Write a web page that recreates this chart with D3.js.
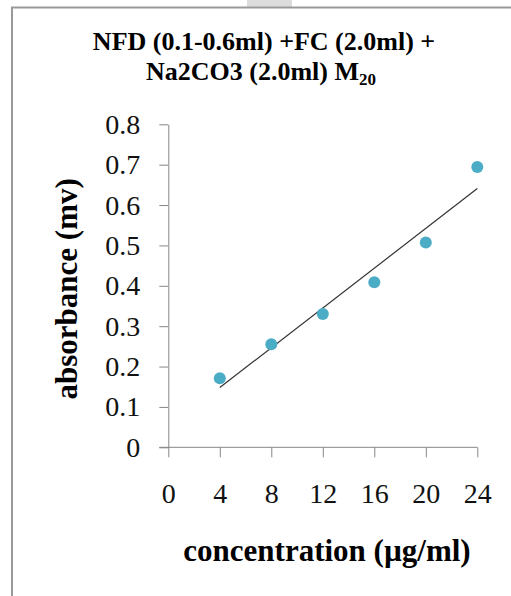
<!doctype html>
<html lang="en">
<head>
  <meta charset="UTF-8">
  <title>Absorbance vs concentration</title>
  <script src="https://cdn.jsdelivr.net/npm/d3@7"></script>
  <style>
    html, body { margin: 0; padding: 0; background: #fff; }
    svg { display: block; }
  </style>
</head>
<body>
<svg width="511" height="596" id="chart"></svg>
<script>
  // data
  var concentration = [4, 8, 12, 16, 20, 24];
  var absorbance = [0.171, 0.255, 0.330, 0.409, 0.507, 0.694];
  var xTicks = [0, 4, 8, 12, 16, 20, 24];
  var yTicks = [0, 0.1, 0.2, 0.3, 0.4, 0.5, 0.6, 0.7, 0.8];

  (function () {
    var svg = d3.select('#chart'),
      serif = '"Liberation Serif", "Times New Roman", serif',
      axisColor = '#868686';

    var x = d3.scaleLinear().domain([0, 24]).range([168.3, 477.3]),
      y = d3.scaleLinear().domain([0, 0.8]).range([447.3, 124.3]);

    // frame and the grey tab at the top
    svg.append('rect')
      .attr('x', 247).attr('y', 0).attr('width', 45).attr('height', 7)
      .attr('fill', '#dcdcdc');
    svg.append('path')
      .attr('d', 'M12,596V7.5H511')
      .attr('fill', 'none')
      .attr('stroke', '#999')
      .attr('stroke-width', 2);

    // title
    var title = svg.append('text')
      .attr('text-anchor', 'middle')
      .attr('font-family', serif)
      .attr('font-weight', 'bold')
      .attr('font-size', 26)
      .attr('fill', '#000');
    title.append('tspan').attr('x', 264).attr('y', 50)
      .text('NFD (0.1-0.6ml) +FC (2.0ml) +');
    title.append('tspan').attr('x', 261).attr('y', 80)
      .text('Na2CO3 (2.0ml) M');
    title.append('tspan').attr('font-size', 17).attr('dy', 5).text('20');

    // axes
    var gx = svg.append('g')
      .attr('transform', 'translate(0,' + y(0) + ')')
      .call(d3.axisBottom(x).tickValues(xTicks).tickSize(10).tickSizeOuter(0).tickPadding(26)
        .tickFormat(d3.format('d')));
    var gy = svg.append('g')
      .attr('transform', 'translate(' + x(0) + ',0)')
      .call(d3.axisLeft(y).tickValues(yTicks).tickSize(9).tickSizeOuter(0).tickPadding(19)
        .tickFormat(function (d) { return d === 0 ? '0' : d3.format('.1f')(d); }));

    [gx, gy].forEach(function (g) {
      g.selectAll('path, line').attr('stroke', axisColor);
      g.selectAll('text')
        .attr('font-family', serif)
        .attr('font-size', 28)
        .attr('fill', '#111');
    });
    gx.select('.domain').attr('d', 'M' + (x(0) - 9) + ',0H' + x(24));

    // axis titles
    svg.append('text')
      .attr('x', 327).attr('y', 561)
      .attr('text-anchor', 'middle')
      .attr('font-family', serif)
      .attr('font-weight', 'bold')
      .attr('font-size', 31)
      .text('concentration (\u00b5g/ml)');

    svg.append('text')
      .attr('transform', 'translate(77,' + ((y(0) + y(0.8)) / 2 + 3) + ') rotate(-90)')
      .attr('text-anchor', 'middle')
      .attr('font-family', serif)
      .attr('font-weight', 'bold')
      .attr('font-size', 31)
      .text('absorbance (mv)');

    // least squares trendline
    var data = concentration.map(function (c, i) { return {c: c, a: absorbance[i]}; });
    var mx = d3.mean(concentration), my = d3.mean(absorbance);
    var sxy = d3.sum(data, function (d) { return (d.c - mx) * (d.a - my); }),
      sxx = d3.sum(data, function (d) { return (d.c - mx) * (d.c - mx); });
    var slope = sxy / sxx, icpt = my - slope * mx;
    var ends = d3.extent(concentration);
    svg.append('line')
      .attr('x1', x(ends[0])).attr('y1', y(icpt + slope * ends[0]))
      .attr('x2', x(ends[1])).attr('y2', y(icpt + slope * ends[1]))
      .attr('stroke', '#333')
      .attr('stroke-width', 1.2);

    // points
    svg.selectAll('.dot').data(data).enter().append('circle').attr('class', 'dot')
      .attr('cx', function (d) { return x(d.c); })
      .attr('cy', function (d) { return y(d.a); })
      .attr('r', 6)
      .attr('fill', '#4bacc6');
  })();
</script>
</body>
</html>
